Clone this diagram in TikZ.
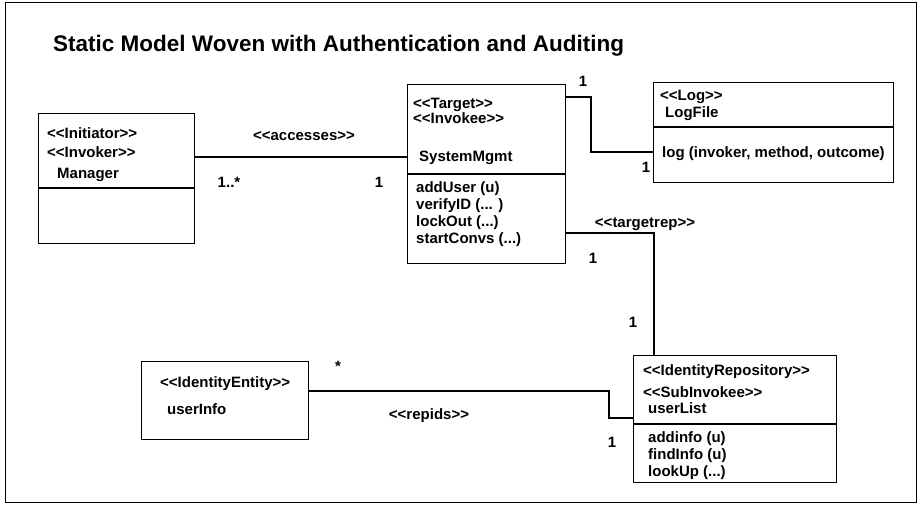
\documentclass[tikz,border=0pt]{standalone}
\usepackage{fontspec}
\setmainfont{Liberation Sans}[Ligatures=TeXOff]
\usetikzlibrary{positioning}

\begin{document}
\begin{tikzpicture}[x=1pt, y=-1pt,
  clase/.style={draw, line width=1.4pt, anchor=north west, inner sep=0pt},
  txt/.style={anchor=base west, inner sep=0pt, font=\fontsize{15}{17}\selectfont\bfseries},
  mult/.style={txt, anchor=base},
  conector/.style={line width=1.3pt}]
  \useasboundingbox (0,0) rectangle (920,506);

  % Marco y titulo
  \draw[line width=1pt] (5,2) rectangle (916,502);
  \node[txt, font=\fontsize{22.5}{26}\selectfont\bfseries] (titulo) at (53,51)
    {Static Model Woven with Authentication and Auditing};

  % Clase Manager
  \node[clase, minimum width=156, minimum height=130] (manager) at (38,113) {};
  \draw[line width=1.4pt] (manager.west |- 0,188) -- (manager.east |- 0,188);
  \node[txt] (mgr1) at (47,138) {<<Initiator>>};
  \node[txt] (mgr2) at (47,157) {<<Invoker>>};
  \node[txt] (mgr3) at (57,178) {Manager};

  % Clase SystemMgmt
  \node[clase, minimum width=158, minimum height=179] (sysmgmt) at (407,84) {};
  \draw[line width=1.4pt] (sysmgmt.west |- 0,174) -- (sysmgmt.east |- 0,174);
  \node[txt] (sys1) at (413,108) {<<Target>>};
  \node[txt] (sys2) at (413,123) {<<Invokee>>};
  \node[txt] (sys3) at (419,161) {SystemMgmt};
  \node[txt] (sys4) at (416,192) {addUser (u)};
  \node[txt] (sys5) at (416,209) {verifyID (... )};
  \node[txt] (sys6) at (416,226) {lockOut (...)};
  \node[txt] (sys7) at (416,243) {startConvs (...)};

  % Clase LogFile
  \node[clase, minimum width=240, minimum height=100] (logfile) at (653,82) {};
  \draw[line width=1.4pt] (logfile.west |- 0,127) -- (logfile.east |- 0,127);
  \node[txt] (log1) at (660,100) {<<Log>>};
  \node[txt] (log2) at (665,117) {LogFile};
  \node[txt] (log3) at (662,157) {log (invoker, method, outcome)};

  % Clase userList
  \node[clase, minimum width=203, minimum height=127] (userlist) at (633,355) {};
  \draw[line width=1.4pt] (userlist.west |- 0,424) -- (userlist.east |- 0,424);
  \node[txt] (ul1) at (643,375) {<<IdentityRepository>>};
  \node[txt] (ul2) at (643,397) {<<SubInvokee>>};
  \node[txt] (ul3) at (648,413) {userList};
  \node[txt] (ul4) at (648,442) {addinfo (u)};
  \node[txt] (ul5) at (648,459) {findInfo (u)};
  \node[txt] (ul6) at (648,476) {lookUp (...)};

  % Clase userInfo
  \node[clase, minimum width=167, minimum height=78] (userinfo) at (141,361) {};
  \node[txt] (ui1) at (160,387) {<<IdentityEntity>>};
  \node[txt] (ui2) at (167,414) {userInfo};

  % Asociaciones
  \draw[conector] (manager.east |- 0,157) -- (sysmgmt.west |- 0,157);
  \draw[conector] (sysmgmt.east |- 0,97) -| (591,152) -- (logfile.west |- 0,152);
  \draw[conector] (sysmgmt.east |- 0,233) -| (userlist.north -| 654,0);
  \draw[conector] (userinfo.east |- 0,391) -| (609,418) -- (userlist.west |- 0,418);

  % Etiquetas y multiplicidades
  \node[mult] (accesses) at (304,140) {<<accesses>>};
  \node[mult] (m1) at (229,187) {1..*};
  \node[mult] (m2) at (379,187) {1};
  \node[mult] (m3) at (583,86) {1};
  \node[mult] (m4) at (646,172) {1};
  \node[mult] (targetrep) at (645,227) {<<targetrep>>};
  \node[mult] (m5) at (593,263) {1};
  \node[mult] (m6) at (633,327) {1};
  \node[mult] (m7) at (338,371) {*};
  \node[mult] (repids) at (429,419) {<<repids>>};
  \node[mult] (m8) at (612,447) {1};
\end{tikzpicture}
\end{document}
